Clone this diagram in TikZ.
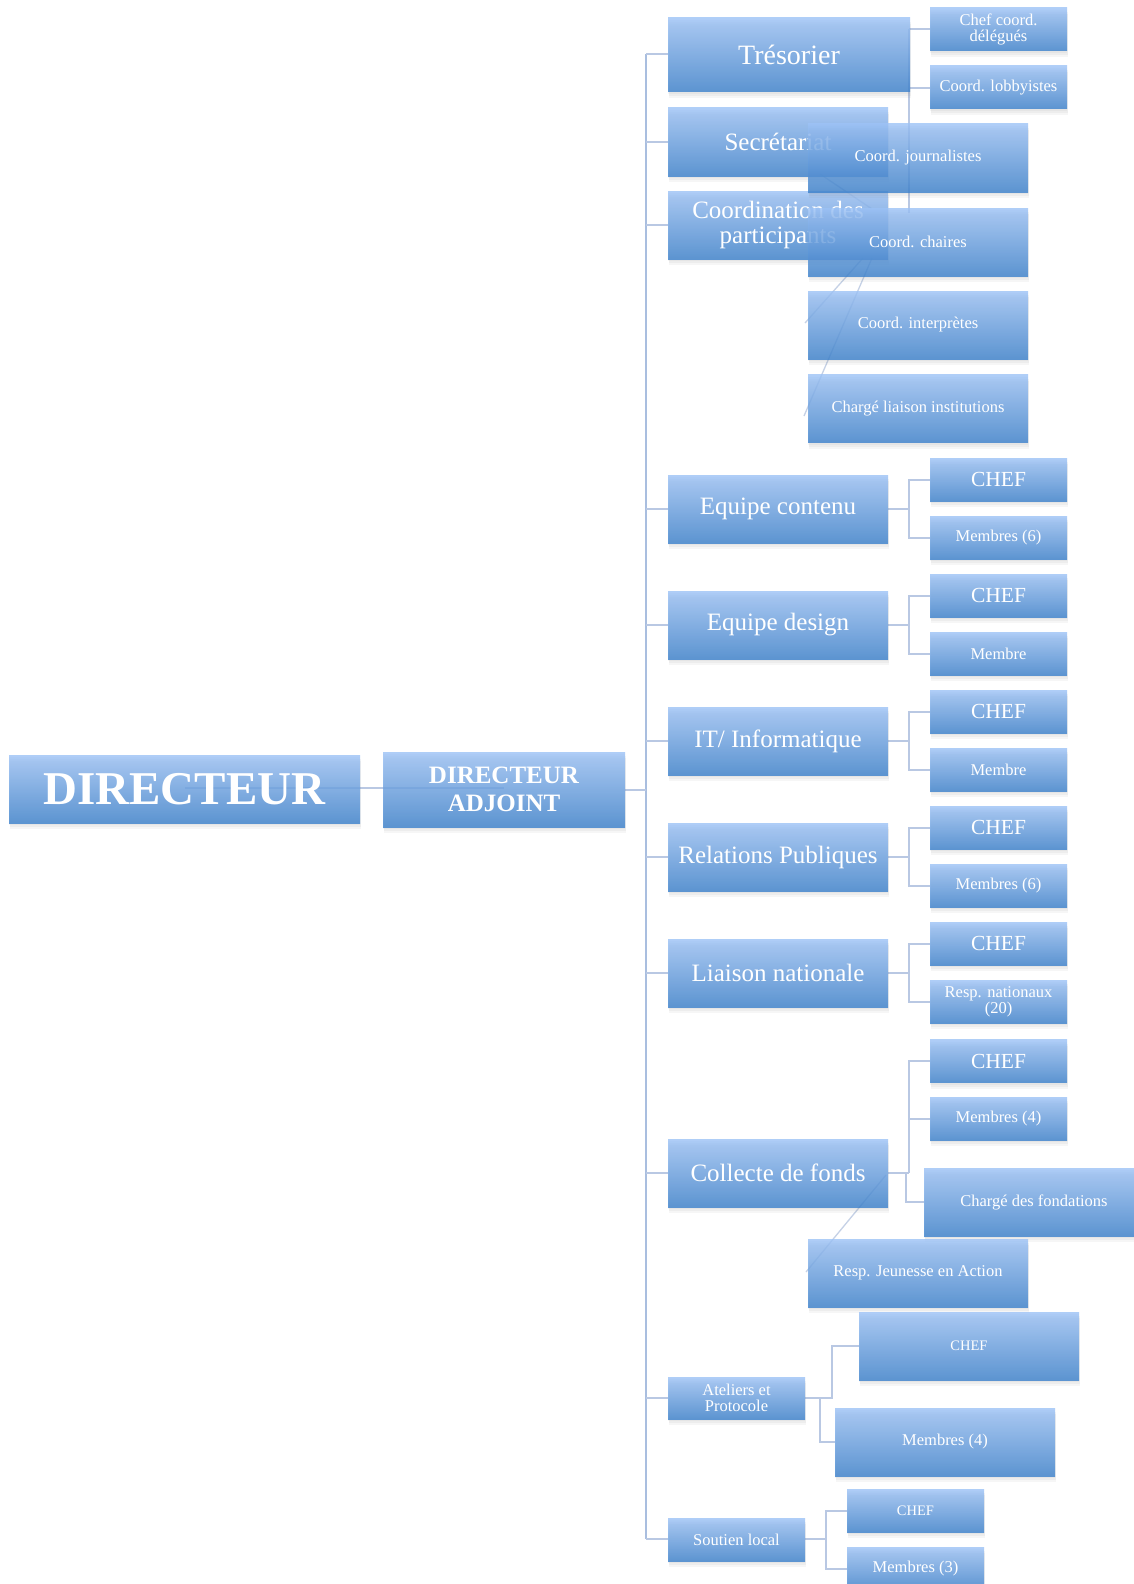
\documentclass[tikz,border=0pt]{standalone}
\usepackage{fontspec}
\setmainfont{Liberation Serif}
\usetikzlibrary{shadows}
\definecolor{btop}{HTML}{9CC2F6}
\definecolor{bbot}{HTML}{3A80CC}
\definecolor{lnk}{HTML}{B9C8E3}
\definecolor{trunkc}{HTML}{A9BEDF}
\definecolor{faint}{HTML}{9FB3D6}
\begin{document}
\begin{tikzpicture}[x=1pt,y=-1pt,
  box/.style={rectangle, inner sep=1pt, top color=btop, bottom color=bbot,
    fill opacity=0.8, text opacity=1, text=white, align=center,
    drop shadow={opacity=0.07, shadow xshift=0pt, shadow yshift=-2pt},
    drop shadow={opacity=0.07, shadow xshift=0.5pt, shadow yshift=-4pt},
    drop shadow={opacity=0.07, shadow xshift=1pt, shadow yshift=-6pt}},
  lvtwo/.style={box, minimum width=220pt, minimum height=68pt, font=\fontsize{25}{25}\selectfont},
  small/.style={box, minimum width=137pt, minimum height=43pt, font=\fontsize{16.5}{16}\selectfont},
  chefbox/.style={small, font=\fontsize{21.5}{22}\selectfont},
  wide/.style={box, minimum width=220pt, minimum height=68pt, font=\fontsize{16.5}{16}\selectfont},
  link/.style={draw=lnk, line width=2pt},
  trunkline/.style={draw=trunkc, line width=2.5pt},
  ghost/.style={draw=faint, line width=1.3pt, opacity=0.6}]
\useasboundingbox (0,0) rectangle (1133,1584);
\fill[white] (0,0) rectangle (1133,1584);

% coordinates for connectors
\coordinate (trunkTop) at (646,54);
\coordinate (trunkBot) at (646,1539);
\coordinate (tresV) at (909,213);
\coordinate (g1a) at (863,258);
\coordinate (g1b) at (805,323);
\coordinate (g2a) at (872,258);
\coordinate (g2b) at (804,416);
\coordinate (g3a) at (820,174);
\coordinate (g3b) at (872,209);
\coordinate (g4a) at (886,1175);
\coordinate (g4b) at (806,1272);

% ---- connectors (drawn first, under the translucent boxes)
\path[trunkline] (trunkTop) -- (trunkBot);
\path[link] (184.5,788) -- (504,788);
\path[link] (625,790) -- (646,790);
\foreach \y in {54,142,225,509,625,741,857,973,1173,1398,1539}{
  \path[link] (646,\y) -- (668,\y);
}
% Tresorier subtree
\path[link] (909,29) -- (tresV);
\path[link] (909,29) -- (930,29);
\path[link] (909,88) -- (930,88);
\path[ghost] (g1a) -- (g1b);
\path[ghost] (g2a) -- (g2b);
\path[ghost] (g3a) -- (g3b);
% groups
\foreach \p in {509,625,741,857,973}{
  \path[link] (888,\p) -- (909,\p);
  \path[link] (930,\p-29.5) -| (909,\p+28.5) -- (930,\p+28.5);
}
% Collecte
\path[link] (888,1173) -- (909,1173);
\path[link] (930,1061) -| (909,1173);
\path[link] (909,1118.5) -- (930,1118.5);
\path[link] (906,1173) |- (924,1202);
\path[ghost] (g4a) -- (g4b);
% Ateliers
\path[link] (805,1398) -- (832,1398) |- (859,1346);
\path[link] (820,1398) |- (835,1442);
% Soutien
\path[link] (805,1539) -- (826,1539);
\path[link] (847,1510.5) -| (826,1568.5) -- (847,1568.5);

% ---- boxes
\node[box, minimum width=351pt, minimum height=68pt, font=\bfseries\fontsize{47}{47}\selectfont] (dir) at (184.5,789) {DIRECTEUR};
\node[box, minimum width=242pt, minimum height=75pt, font=\bfseries\fontsize{25}{28}\selectfont] (adj) at (504,789.5) {DIRECTEUR\\ADJOINT};

\node[box, minimum width=242pt, minimum height=74pt, font=\fontsize{28}{28}\selectfont] (tres) at (789,55) {Trésorier};
\node[lvtwo] (secr) at (778,142) {Secrétariat};
\node[lvtwo] (coord) at (778,225) {Coordination des\\participants};

\node[small] (chefcoord) at (998.5,29.5) {Chef coord.\\délégués};
\node[small] (lobby) at (998.5,87.5) {Coord. lobbyistes};
\node[wide] (journ) at (918,158) {Coord. journalistes};
\node[wide] (chaires) at (918,242) {Coord. chaires};
\node[wide] (interp) at (918,325) {Coord. interprètes};
\node[wide] (inst) at (918,408.5) {Chargé liaison institutions};

\node[lvtwo] (contenu) at (778,509) {Equipe contenu};
\node[chefbox] (c1) at (998.5,479.5) {CHEF};
\node[small] (m1) at (998.5,537.5) {Membres (6)};

\node[lvtwo] (design) at (778,625) {Equipe design};
\node[chefbox] (c2) at (998.5,595.5) {CHEF};
\node[small] (m2) at (998.5,653.5) {Membre};

\node[lvtwo] (it) at (778,741) {IT/ Informatique};
\node[chefbox] (c3) at (998.5,711.5) {CHEF};
\node[small] (m3) at (998.5,769.5) {Membre};

\node[lvtwo] (rel) at (778,857) {Relations Publiques};
\node[chefbox] (c4) at (998.5,827.5) {CHEF};
\node[small] (m4) at (998.5,885.5) {Membres (6)};

\node[lvtwo] (liaison) at (778,973) {Liaison nationale};
\node[chefbox] (c5) at (998.5,943.5) {CHEF};
\node[small] (m5) at (998.5,1001.5) {Resp. nationaux\\(20)};

\node[lvtwo] (collecte) at (778,1173) {Collecte de fonds};
\node[chefbox] (c6) at (998.5,1061) {CHEF};
\node[small] (m6) at (998.5,1118.5) {Membres (4)};
\node[wide] (fond) at (1034,1202) {Chargé des fondations};
\node[wide] (jeun) at (918,1273) {Resp. Jeunesse en Action};

\node[small, minimum height=42pt] (ateliers) at (736.5,1398) {Ateliers et\\Protocole};
\node[wide, font=\fontsize{14.5}{15}\selectfont] (c7) at (969,1346) {CHEF};
\node[wide] (m7) at (945,1442) {Membres (4)};

\node[small] (soutien) at (736.5,1539.5) {Soutien local};
\node[small, font=\fontsize{14.5}{15}\selectfont] (c8) at (915.5,1510.5) {CHEF};
\node[small] (m8) at (915.5,1568.5) {Membres (3)};
\end{tikzpicture}
\end{document}
